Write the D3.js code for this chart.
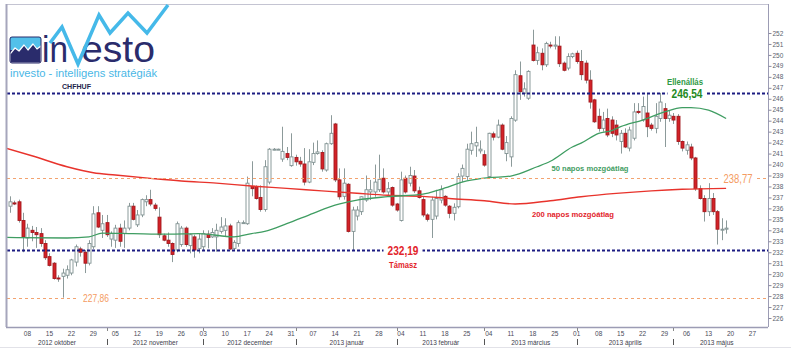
<!DOCTYPE html>
<html><head><meta charset="utf-8">
<script src="https://cdn.jsdelivr.net/npm/d3@7"></script>
<style>body{margin:0;background:#fff}svg{display:block}text{font-family:"Liberation Sans",Arial,sans-serif}</style>
</head><body><svg id="c" width="791" height="360"></svg>
<script>
// ---- calendar span of the x axis (weekdays) ----
const axisStart = "2012-10-01", axisEnd = "2013-05-31", firstCandle = "2012-10-02";
// ---- CHFHUF daily candles (2012-10-02 .. 2013-05-17) ----
const open = [236.2,236.5,236.6,234.9,233.3,234.0,233.8,233.7,232.8,231.6,231.0,229.65,229.8,229.9,230.1,231.1,232.3,232.0,231.0,232.5,
235.6,234.0,234.7,233.2,233.1,234.2,233.7,234.2,236.2,234.5,235.4,236.6,236.8,236.3,235.2,233.5,233.1,232.8,232.2,232.7,
234.2,232.6,233.4,232.35,232.5,233.65,233.4,233.4,233.9,234.0,234.4,232.35,232.8,234.7,234.6,238.0,238.0,237.0,235.9,238.4,
241.4,241.4,240.5,241.0,239.9,240.65,240.3,240.05,238.4,240.2,241.0,241.1,239.5,241.9,243.7,238.6,237.1,238.2,233.9,235.3,
235.7,236.76,237.5,237.5,237.7,238.75,237.5,237.9,236.4,234.9,238.75,238.3,238.95,237.6,236.8,235.4,235.0,235.3,236.76,237.1,
236.2,235.55,236.15,238.95,238.9,241.3,241.7,241.25,240.9,238.9,242.8,242.5,243.6,241.0,240.7,244.05,248.1,246.5,246.05,250.9,
249.5,250.15,249.1,250.9,250.8,250.8,249.25,248.8,249.85,250.15,249.4,249.25,247.7,245.9,244.4,243.3,244.2,244.06,243.6,242.1,
242.85,241.5,242.4,244.85,244.06,244.7,243.6,243.3,244.2,245.1,244.2,244.4,244.4,242.1,241.3,241.6,240.6,237.8,236.9,235.7,
236.9,235.7,234.1,234.1];
const high = [237.1,236.7,236.8,235.6,234.6,234.4,234.3,234.2,233.1,231.9,231.1,229.9,230.5,230.8,231.4,232.7,232.5,232.2,233.1,236.2,
236.2,235.4,235.4,233.9,234.5,234.6,234.9,236.5,236.5,235.85,236.9,237.2,237.7,236.5,236.1,233.7,233.8,232.9,234.8,234.4,
234.35,233.7,233.6,233.7,234.0,234.0,234.2,234.6,235.2,235.1,234.6,233.1,234.9,234.9,238.9,240.3,238.1,238.1,240.4,241.5,
241.5,241.45,243.45,241.6,242.85,240.9,240.7,241.5,241.4,242.0,242.2,241.3,242.0,244.5,243.8,239.65,239.65,238.3,236.15,236.2,
237.1,239.0,238.6,240.0,240.9,239.65,238.4,238.0,236.5,239.35,239.0,239.8,239.5,237.98,237.06,235.55,237.06,237.7,238.1,237.2,
236.3,236.46,239.2,240.0,241.9,243.0,243.45,242.2,241.3,242.9,243.0,244.1,243.75,242.6,244.4,248.6,249.4,247.5,248.6,252.3,
250.75,250.6,251.2,251.2,251.7,251.7,249.4,250.15,250.2,250.4,250.45,249.5,248.6,246.0,245.1,244.8,245.1,244.4,244.06,243.15,
243.3,243.45,245.6,245.6,246.2,246.5,243.8,245.6,246.54,245.6,244.9,244.7,244.6,242.2,242.1,241.9,240.7,238.1,237.2,238.3,
237.4,235.85,235.1,234.9];
const low = [235.6,236.3,234.7,232.0,232.5,233.0,232.4,232.5,231.3,230.7,229.5,229.3,227.86,229.6,229.9,230.7,231.6,230.1,230.8,232.3,
234.2,233.3,233.4,232.5,232.4,232.5,232.4,234.0,234.9,234.3,235.2,236.2,236.2,235.8,233.3,233.0,232.5,231.1,232.0,232.5,
232.5,231.9,231.5,231.9,232.2,232.35,233.3,232.05,233.7,233.4,232.19,232.2,232.5,234.6,234.5,237.1,236.8,235.7,235.7,238.2,
241.3,241.35,240.25,240.4,239.8,239.9,239.8,238.1,238.3,239.95,240.9,239.35,239.35,241.8,238.4,236.8,236.8,233.8,232.19,234.9,
235.4,236.6,236.76,237.06,237.5,237.35,237.06,236.15,235.7,234.8,237.35,238.0,237.4,236.9,235.2,234.8,233.3,235.0,236.46,236.15,
235.1,234.9,236.0,238.4,238.6,240.9,240.7,241.0,239.8,238.75,242.2,242.4,241.3,240.3,239.8,243.9,245.9,246.2,245.9,249.4,
249.1,248.6,248.9,250.6,250.5,248.9,248.5,248.6,249.7,249.2,247.7,247.4,245.1,243.8,243.0,243.0,242.5,242.5,242.2,241.0,
241.5,241.2,242.2,244.6,243.9,242.5,243.1,242.85,243.9,241.6,243.9,243.7,241.8,241.2,240.9,240.4,237.6,236.8,234.8,235.3,
235.4,232.7,233.1,233.7];
const close = [236.6,236.4,234.9,233.4,234.2,233.8,233.6,232.8,231.5,230.8,229.6,229.6,230.1,230.4,231.3,232.5,232.0,231.0,232.8,235.5,
234.3,234.6,233.6,233.7,234.2,233.0,234.2,236.2,235.0,235.4,236.8,236.8,236.4,236.0,233.6,233.1,232.8,231.8,234.6,234.2,
232.7,233.6,232.2,233.2,233.7,233.35,233.8,234.0,234.3,234.4,232.3,232.9,234.7,234.7,238.3,237.8,236.9,235.9,239.8,241.4,
241.4,241.4,241.2,240.65,240.7,240.25,240.05,238.4,240.25,241.0,241.15,239.6,241.9,242.85,238.6,237.06,238.3,233.9,235.85,235.85,
237.06,237.7,237.7,238.4,238.65,237.5,237.8,236.3,235.85,238.6,237.5,239.0,237.6,237.0,235.4,235.0,236.76,236.9,237.7,236.3,
235.55,236.1,238.9,239.65,241.4,241.9,242.0,241.4,239.95,242.85,242.5,243.6,241.4,242.0,244.2,248.2,246.65,246.9,248.5,249.5,
250.2,249.1,251.05,250.85,250.9,249.2,248.6,249.85,250.1,249.4,248.2,247.7,245.7,243.9,243.3,244.06,242.7,242.85,242.7,242.85,
241.6,243.15,244.8,244.75,245.3,243.45,243.3,244.4,245.7,244.2,244.5,244.06,242.1,241.5,241.8,240.6,237.8,236.9,235.7,236.9,
235.7,234.1,234.1,234.2];
// ---- moving averages, read at these weekday positions (0 = 2012-10-01) ----
const ma50Idx  = [0,14,19,22,29,37,44,52,56,59,64,70,75,80,87,95,99,105,110,115,121,124,129,131,135,138,140,145,150,154,156,160,164];
const ma50Val  = [233.35,233.3,233.4,233.75,233.7,233.65,233.7,233.4,233.7,233.9,234.6,235.55,236.3,236.76,237.07,237.3,237.74,238.5,238.8,238.95,239.8,240.3,241.6,241.95,242.85,243.1,243.45,244.06,244.8,245.2,245.2,244.97,244.2];
const ma200Idx = [0,6,14,20,25,33,40,48,56,64,72,80,87,95,101,109,116,124,131,139,147,154,164];
const ma200Val = [241.5,240.8,239.8,239.25,239.04,238.74,238.5,238.3,238.04,237.83,237.6,237.38,237.2,237.1,236.9,236.7,236.4,236.7,237.06,237.37,237.6,237.74,237.83];
// ---- horizontal levels ----
const levelVal   = [246.54, 238.77, 232.19, 227.86];
const levelLabel = ["246,54", "238,77", "232,19", "227,86"];
const levelNote  = ["Ellenállás", "", "Támasz", ""];
// ---- axis labels ----
const yTicks = d3.range(226, 253);
const monthLabels = ["2012 október","2012 november","2012 december","2013 január","2013 február","2013 március","2013 április","2013 május"];

const svg = d3.select("#c");
const L = 7, R = 768, T = 4, B = 327;
const fmt = d3.utcFormat("%Y-%m-%d");
const days = d3.utcDay.range(new Date(axisStart), d3.utcDay.offset(new Date(axisEnd), 1)).filter(d => d.getUTCDay() > 0 && d.getUTCDay() < 6);
const keys = days.map(fmt);
const step = 4.394;
const x = d3.scaleBand().domain(keys).range([3.3, 3.3 + keys.length * step]);
const cx = k => x(k) + x.bandwidth() / 2;
const y = d3.scaleLinear().domain([226, 252]).range([318, 33]);

svg.append("rect").attr("width", 791).attr("height", 360).attr("fill", "#fff");
svg.append("defs").append("clipPath").attr("id", "pc").append("rect").attr("x", L).attr("y", T).attr("width", R - L).attr("height", B - T);

const plot = svg.append("g").attr("clip-path", "url(#pc)");

// candles
const s0 = keys.indexOf(firstCandle);
const candles = open.map((o, i) => ({ k: keys[s0 + i], o, h: high[i], l: low[i], c: close[i] }));
const cg = plot.append("g");
cg.selectAll("line.w").data(candles).join("line")
  .attr("x1", d => Math.round(cx(d.k)) + 0.5).attr("x2", d => Math.round(cx(d.k)) + 0.5)
  .attr("y1", d => y(d.h)).attr("y2", d => y(d.l))
  .attr("stroke", "#8c9a9a").attr("stroke-width", 1);
cg.selectAll("rect.b").data(candles).join("rect")
  .attr("x", d => Math.round(cx(d.k)) - 1)
  .attr("width", 3)
  .attr("y", d => y(Math.max(d.o, d.c)))
  .attr("height", d => Math.max(1, Math.abs(y(d.o) - y(d.c))))
  .attr("fill", d => d.c < d.o ? "#d42127" : "#ffffff")
  .attr("stroke", d => d.c < d.o ? "#a3191d" : "#7f9191")
  .attr("stroke-width", 0.9);

// moving averages
const line = d3.line().x(d => cx(keys[d[0]])).y(d => y(d[1])).curve(d3.curveMonotoneX);
plot.append("path").datum(ma200Idx.map((d, i) => [d, ma200Val[i]]))
  .attr("d", line).attr("fill", "none").attr("stroke", "#e8332c").attr("stroke-width", 1.4);
plot.append("path").datum(ma50Idx.map((d, i) => [d, ma50Val[i]]))
  .attr("d", line).attr("fill", "none").attr("stroke", "#3f9d62").attr("stroke-width", 1.3);

// level lines
const levelStyle = [
  { stroke: "#1c1c82", w: 2, dash: "3,2", col: "#1f8a22", size: 12, weight: "bold", lx: 687, len: 31, note: "#2f9a45", ny: -11 },
  { stroke: "#f3a36f", w: 1, dash: "3,3", col: "#f49b62", size: 12, weight: "normal", lx: 738, len: 29 },
  { stroke: "#1c1c82", w: 2, dash: "3,2", col: "#e2242b", size: 12, weight: "bold", lx: 403, len: 31, note: "#e2242b", ny: 15 },
  { stroke: "#f3a36f", w: 1, dash: "3,3", col: "#f49b62", size: 11, weight: "normal", lx: 96, len: 26 }
];
const lg = svg.append("g");
levelVal.forEach((v, i) => {
  const st = levelStyle[i], yy = Math.round(y(v)) + 0.5;
  lg.append("line").attr("x1", L).attr("x2", R).attr("y1", yy).attr("y2", yy)
    .attr("stroke", st.stroke).attr("stroke-width", st.w).attr("stroke-dasharray", st.dash);
  lg.append("rect").attr("x", st.lx - st.len / 2 - 4).attr("y", yy - 6).attr("width", st.len + 8).attr("height", 12).attr("fill", "#fff");
  lg.append("text").attr("x", st.lx).attr("y", yy).attr("dy", "0.36em").attr("text-anchor", "middle")
    .attr("font-size", st.size).attr("font-weight", st.weight).attr("fill", st.col)
    .attr("textLength", st.len).attr("lengthAdjust", "spacingAndGlyphs").text(levelLabel[i]);
  if (levelNote[i]) {
    lg.append("text").attr("x", st.lx - (i === 0 ? 2 : 0)).attr("y", yy + st.ny).attr("dy", "0.35em").attr("text-anchor", "middle")
      .attr("font-size", 8.5).attr("font-weight", "bold").attr("fill", st.note)
      .attr("textLength", i === 0 ? 36 : 28).attr("lengthAdjust", "spacingAndGlyphs").text(levelNote[i]);
  }
});

// MA labels
svg.append("text").attr("x", 590).attr("y", 168).attr("dy", "0.35em").attr("text-anchor", "middle")
  .attr("font-size", 8).attr("font-weight", "bold").attr("fill", "#3f9d62")
  .attr("textLength", 77).attr("lengthAdjust", "spacingAndGlyphs").text("50 napos mozgóátlag");
svg.append("text").attr("x", 573).attr("y", 214).attr("dy", "0.35em").attr("text-anchor", "middle")
  .attr("font-size", 8).attr("font-weight", "bold").attr("fill", "#e2242b")
  .attr("textLength", 82).attr("lengthAdjust", "spacingAndGlyphs").text("200 napos mozgóátlag");

// frame
const fr = svg.append("g").attr("fill", "none");
fr.append("line").attr("x1", 6).attr("x2", R).attr("y1", 4.5).attr("y2", 4.5).attr("stroke", "#c4c4d2");
fr.append("line").attr("x1", 6.5).attr("x2", 6.5).attr("y1", 4).attr("y2", B).attr("stroke", "#a6a6bc").attr("stroke-width", 2);
fr.append("line").attr("x1", 6).attr("x2", R).attr("y1", B + 0.5).attr("y2", B + 0.5).attr("stroke", "#9c9cb4").attr("stroke-width", 1.5);
fr.append("line").attr("x1", 0).attr("x2", 791).attr("y1", 347.5).attr("y2", 347.5).attr("stroke", "#e2e2e8");

// y axis (right)
const ya = svg.append("g").attr("transform", `translate(${R + 0.5},0)`)
  .call(d3.axisRight(y).tickValues(yTicks).tickSize(3).tickPadding(1).tickFormat(d3.format("d")));
ya.select(".domain").attr("d", `M0,${T}V${B}`).attr("stroke", "#9c9cb4");
ya.selectAll(".tick line").attr("stroke", "#8a8aa0");
ya.selectAll(".tick text").attr("font-size", 6.5).attr("fill", "#5a5f6e").attr("font-family", "Liberation Sans, Arial, sans-serif");

// x axis: Monday day labels (from the first candle onward)
const xa = svg.append("g");
const mondays = days.filter(d => d.getUTCDay() === 1 && fmt(d) >= firstCandle);
xa.selectAll("text.d").data(mondays).join("text")
  .attr("x", d => cx(fmt(d))).attr("y", 335.5).attr("text-anchor", "middle")
  .attr("font-size", 6.5).attr("fill", "#4a4a58").text(d3.utcFormat("%d"));
// month separators and labels
const months = d3.groups(days, d => d.getUTCFullYear() * 12 + d.getUTCMonth());
months.forEach(([m, ds], i) => {
  const sx = Math.round(cx(fmt(ds[0]))) + 0.5;
  if (i > 0) {
    xa.append("line").attr("x1", sx).attr("x2", sx).attr("y1", 339).attr("y2", 345).attr("stroke", "#555");
    xa.append("line").attr("x1", sx).attr("x2", sx).attr("y1", 328).attr("y2", 331).attr("stroke", "#888");
  }
  const a = i === 0 ? L : sx;
  const b = i < months.length - 1 ? Math.round(cx(fmt(months[i + 1][1][0]))) : 760;
  xa.append("text").attr("x", (a + b) / 2).attr("y", 344.5).attr("text-anchor", "middle")
    .attr("font-size", 6.5).attr("fill", "#3e3e4c").text(monthLabels[i]);
});

// logo
const lo = svg.append("g");
lo.append("rect").attr("x", 10).attr("y", 37).attr("width", 31).attr("height", 26).attr("rx", 2).attr("fill", "#2a2c6c");
lo.append("rect").attr("x", 10).attr("y", 37).attr("width", 31).attr("height", 13).attr("fill", "#52c0ea");
lo.append("path").attr("d", "M10,54L15,48L19,51L24,45L28,50L33,44L37,49L41,46V63H10Z").attr("fill", "#2a2c6c")
  .attr("stroke", "#ffffff").attr("stroke-width", 1.2).attr("stroke-linejoin", "round");
lo.append("rect").attr("x", 10).attr("y", 37).attr("width", 31).attr("height", 26).attr("rx", 2).attr("fill", "none").attr("stroke", "#2a2c6c");
lo.append("text").attr("x", 42).attr("y", 62).attr("font-family", "Lato, 'Open Sans', sans-serif").attr("font-size", 36)
  .attr("fill", "#2a2c6c").attr("textLength", 26).attr("lengthAdjust", "spacingAndGlyphs").text("in");
lo.append("text").attr("x", 81).attr("y", 62).attr("font-family", "Lato, 'Open Sans', sans-serif").attr("font-size", 36)
  .attr("fill", "#2a2c6c").attr("textLength", 74).attr("lengthAdjust", "spacingAndGlyphs").text("esto");
lo.append("polyline").attr("points", "50,43 62,27 78,64 99,15 110,33 128,13 147,33 168,5")
  .attr("fill", "none").attr("stroke", "#45b9e9").attr("stroke-width", 3.5).attr("stroke-linejoin", "miter");
lo.append("text").attr("x", 10).attr("y", 77).attr("font-size", 10).attr("fill", "#4ab7e6")
  .attr("font-family", "Lato, 'Open Sans', sans-serif")
  .attr("textLength", 147).attr("lengthAdjust", "spacingAndGlyphs").text("investo - intelligens stratégiák");
lo.append("text").attr("x", 62).attr("y", 89).attr("font-size", 7.5).attr("font-weight", "bold").attr("fill", "#23244a")
  .attr("textLength", 29).attr("lengthAdjust", "spacingAndGlyphs").text("CHFHUF");
</script></body></html>
